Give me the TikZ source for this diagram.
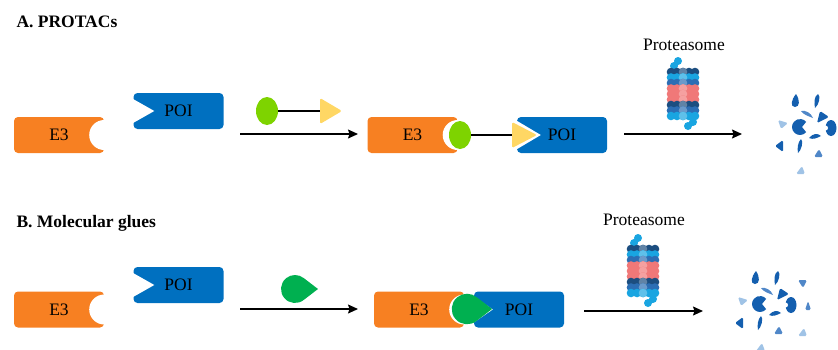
\documentclass[tikz,border=0pt]{standalone}
\usepackage{fontspec}
\setmainfont{Liberation Serif}
\usetikzlibrary{arrows.meta,shapes.geometric}

\definecolor{e3orange}{RGB}{247,128,34}
\definecolor{poiblue}{RGB}{0,112,192}
\definecolor{limegreen}{RGB}{126,211,0}
\definecolor{anchorgold}{RGB}{255,215,100}
\definecolor{gluegreen}{RGB}{0,176,80}
\definecolor{pnavy}{RGB}{28,78,128}
\definecolor{pblue}{RGB}{44,110,180}
\definecolor{pcyan}{RGB}{25,165,225}
\definecolor{ppink}{RGB}{240,120,120}
\definecolor{fdark}{RGB}{20,95,175}
\definecolor{fmid}{RGB}{80,135,200}
\definecolor{flight}{RGB}{160,195,230}

\tikzset{
  label text/.style={font=\rmfamily\fontsize{17.5}{20}\selectfont},
  title text/.style={font=\rmfamily\bfseries\fontsize{17.5}{20}\selectfont, anchor=base west},
  e3/.style={fill=e3orange, rounded corners=4pt, minimum width=90pt, minimum height=36pt,
    inner sep=0pt, label text},
  poi/.style={e3, fill=poiblue},
  warhead/.style={ellipse, fill=limegreen, minimum width=22pt, minimum height=28pt, inner sep=0pt},
  linker/.style={line width=1.5pt},
  flow/.style={->, line width=1.4pt},
  % small molecular glue, tip pointing right
  glue/.pic={
    \fill[gluegreen, pic actions] (23,0) -- (50:14) arc[start angle=50, end angle=310, radius=14] -- cycle;
  },
  % barrel of subunits
  proteasome/.pic={
    \fill[pcyan] (-5,-33) circle[radius=4] (-9,-28) circle[radius=4];
    \foreach \dy/\c in {-22/pnavy,-16.5/pcyan,-11/pblue,-5.5/ppink,0/ppink,5.5/ppink,11/pnavy,16.5/pblue,22/pcyan}{
      \foreach \dx in {-12,-6,0,6,12}
        \fill[\c] (\dx,\dy) circle[radius=4.3];
      \fill[\c!70!white] (0,\dy) circle[radius=4.3];
    }
    \fill[pcyan] (10,28) circle[radius=4] (5,32) circle[radius=4];
  },
  % degraded peptide pieces
  fragments/.pic={
    \fill[fdark] (-4,-33) .. controls (0,-27) and (0,-20) .. (-5,-20) .. controls (-10,-20) and (-9,-27) .. cycle;
    \fill[fdark] (18,-33) .. controls (21,-31) and (19,-22) .. (15,-19) .. controls (14,-24) and (14,-31) .. cycle;
    \fill[fmid, rounded corners=1.5pt] (38,-24) -- (47,-24) -- (43,-16) -- cycle;
    \fill[fmid] (1,-16) .. controls (6,-17) and (11,-14) .. (13,-9) .. controls (8,-11) and (4,-12) .. cycle;
    \fill[fdark, rounded corners=1.5pt] (17,-4) -- (20,-16) -- (29,-10) -- cycle;
    \fill[flight, rounded corners=1.5pt] (-22,-7) -- (-12,-4) -- (-19,2) -- cycle;
    \fill[fdark] (0,0) ++(40:8) arc[start angle=40, end angle=320, radius=8] -- (2,0) -- cycle;
    \fill[fdark] (31,1) ellipse[x radius=5.5, y radius=8];
    \fill[white] (25.5,1) circle[radius=2.5];
    \fill[fmid, rounded corners=1.5pt] (45,6) -- (51,6) -- (48,-3) -- cycle;
    \fill[fdark] (9,11) .. controls (13,6) and (18,6) .. (21,9) .. controls (17,11) and (13,13) .. cycle;
    \fill[fdark, rounded corners=1.5pt] (-25,19) -- (-17,13) -- (-17,25) -- cycle;
    \fill[fdark] (1,12) .. controls (4,14) and (1,24) .. (-2,26) .. controls (-3,21) and (-2,15) .. cycle;
    \fill[fmid, rounded corners=1.5pt] (14,30) -- (23,30) -- (19,22) -- cycle;
    \fill[flight, rounded corners=1.5pt] (38,32) -- (47,32) -- (44,24) -- cycle;
    \fill[flight, rounded corners=1.5pt] (-4,47) -- (5,47) -- (2,39) -- cycle;
  },
}

\begin{document}
\begin{tikzpicture}[x=1pt, y=-1pt, >={Stealth[length=10pt, width=9pt, inset=1.5pt]}]
  \useasboundingbox (0,0) rectangle (838,349);

  % ---- A. PROTACs ----
  \node[title text] (titleA) at (13,27) {A. PROTACs};

  \node[e3] (e3a) at (59,135) {E3};
  \fill[white] (e3a.east) circle[radius=15];
  \node[poi] (poia) at (178.5,111) {POI};
  \fill[white] ([shift={(-2,-13)}]poia.west) -- ([shift={(21,0)}]poia.west) -- ([shift={(-2,13)}]poia.west) -- cycle;

  \node[warhead] (wa) at (267,111) {};
  \coordinate (ta) at (320,111);
  \fill[anchorgold, rounded corners=1.5pt] (320,98) -- (342,111) -- (320,124) -- cycle;
  \draw[linker] (wa.east) -- (ta);

  \coordinate (a1s) at (240,134);
  \coordinate (a1e) at (358,134);
  \draw[flow] (a1s) -- (a1e);

  \node[e3] (e3ac) at (412.5,135) {E3};
  \fill[white] (e3ac.east) circle[radius=15];
  \node[poi] (poiac) at (562,135) {POI};
  \fill[white] ([shift={(-3,-16)}]poiac.west) -- ([shift={(24,0)}]poiac.west) -- ([shift={(-3,16)}]poiac.west) -- cycle;
  \node[warhead] (wac) at (460,135) {};
  \coordinate (tac) at (512,135);
  \fill[anchorgold, rounded corners=1.5pt] (512,122) -- (537,135) -- (512,148) -- cycle;
  \draw[linker] (wac.east) -- (tac);

  \node[label text, anchor=base] (protA) at (684,50) {Proteasome};
  \pic at (683,94) {proteasome};
  \coordinate (a2s) at (624,134);
  \coordinate (a2e) at (742,134);
  \draw[flow] (a2s) -- (a2e);
  \pic at (800,127) {fragments};

  % ---- B. Molecular glues ----
  \node[title text] (titleB) at (13,227) {B. Molecular glues};

  \node[e3] (e3b) at (59,309.5) {E3};
  \fill[white] (e3b.east) circle[radius=15];
  \node[poi] (poib) at (178.5,285) {POI};
  \fill[white] ([shift={(-2,-13)}]poib.west) -- ([shift={(21,0)}]poib.west) -- ([shift={(-2,13)}]poib.west) -- cycle;

  \pic at (295,289) {glue};

  \coordinate (b1s) at (240,309);
  \coordinate (b1e) at (358,309);
  \draw[flow] (b1s) -- (b1e);

  \node[e3] (e3bc) at (419,309.5) {E3};
  \fill[white] (e3bc.east) circle[radius=15];
  \node[poi] (poibc) at (519,309.5) {POI};
  \fill[white] ([shift={(-3,-15)}]poibc.west) -- ([shift={(19,0)}]poibc.west) -- ([shift={(-3,15)}]poibc.west) -- cycle;
  \pic[draw=white, line width=2.5pt] at (467,309) {glue};

  \node[label text, anchor=base] (protB) at (644,225) {Proteasome};
  \pic at (643,271) {proteasome};
  \coordinate (b2s) at (584,311);
  \coordinate (b2e) at (703,311);
  \draw[flow] (b2s) -- (b2e);
  \pic at (760,304) {fragments};
\end{tikzpicture}
\end{document}
